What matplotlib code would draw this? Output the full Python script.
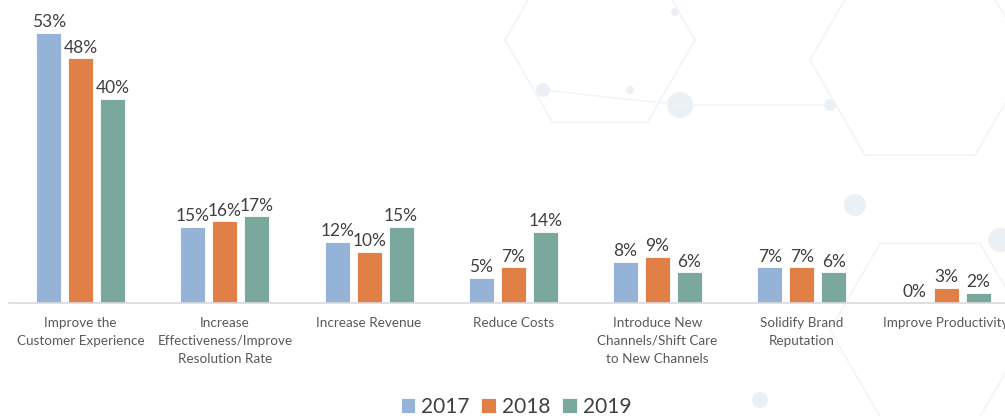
import matplotlib
matplotlib.use("Agg")
import matplotlib.pyplot as plt
import numpy as np
from matplotlib.patches import Circle, RegularPolygon

categories = ["Improve the\nCustomer Experience",
              "Increase\nEffectiveness/Improve\nResolution Rate",
              "Increase Revenue",
              "Reduce Costs",
              "Introduce New\nChannels/Shift Care\nto New Channels",
              "Solidify Brand\nReputation",
              "Improve Productivity"]
years = ["2017", "2018", "2019"]
v2017 = [53, 15, 12, 5, 8, 7, 0]
v2018 = [48, 16, 10, 7, 9, 7, 3]
v2019 = [40, 17, 15, 14, 6, 6, 2]
colors = ["#95B3D7", "#E07F46", "#7BA89C"]

plt.rcParams['font.family'] = ['Lato', 'DejaVu Sans']

W, H = 1005, 416
fig = plt.figure(figsize=(W/100, H/100), dpi=100)
fig.patch.set_facecolor("white")

# faint background decoration
bg = fig.add_axes([0, 0, 1, 1], zorder=-5)
bg.set_xlim(0, W); bg.set_ylim(H, 0); bg.axis("off")
for (cx, cy, r) in [(543, 90, 7), (630, 90, 4), (680, 105, 13), (830, 105, 6),
                    (855, 205, 11), (675, 12, 4), (1000, 240, 12), (760, 400, 8)]:
    bg.add_patch(Circle((cx, cy), r, color="#ebf0f5", lw=0))
bg.plot([543, 680, 830], [90, 105, 105], color="#f0f3f7", lw=1)
for (cx, cy, r) in [(600, 40, 95), (920, 60, 110), (930, 330, 100)]:
    bg.add_patch(RegularPolygon((cx, cy), 6, radius=r, orientation=np.pi/6,
                                fill=False, ec="#f0f3f7", lw=1))

left_px, right_px, base_px = 8.5, 1005, 303
ax = fig.add_axes([left_px/W, (H-base_px)/H, (right_px-left_px)/W, base_px/H])
ax.patch.set_alpha(0)

x = np.arange(len(categories))
step = 32/144.25
bw = 25/144.25
series = [v2017, v2018, v2019]
for i, (vals, c, yr) in enumerate(zip(series, colors, years)):
    xs = x + (i-1)*step
    ax.bar(xs, vals, width=bw, color=c, label=yr, edgecolor="white", linewidth=0.6)
    for xx, v in zip(xs, vals):
        ax.annotate(f"{v}%", (xx, v), xytext=(0, 2), textcoords="offset points",
                    ha="center", va="bottom", fontsize=12.5, color="#404040")

ax.set_xlim(-0.5, (right_px-80.5)/144.25)
ax.set_ylim(0, base_px/5.094)
for s in ["top", "right", "left"]:
    ax.spines[s].set_visible(False)
ax.spines["bottom"].set_color("#d9d9d9")
ax.spines["bottom"].set_linewidth(1.2)
ax.set_yticks([])
ax.set_xticks(x)
ax.set_xticklabels(categories, fontsize=9.7, color="#595959", linespacing=1.6)
ax.tick_params(axis="x", length=0, pad=10)

fig.legend(*ax.get_legend_handles_labels(), loc="center", bbox_to_anchor=(516/W, 1-407/H),
           ncol=3, frameon=False, fontsize=15, handlelength=0.7, handleheight=0.7,
           handletextpad=0.3, columnspacing=0.55, labelcolor="#404040")

fig.savefig("out.png", dpi=100, facecolor="white")
